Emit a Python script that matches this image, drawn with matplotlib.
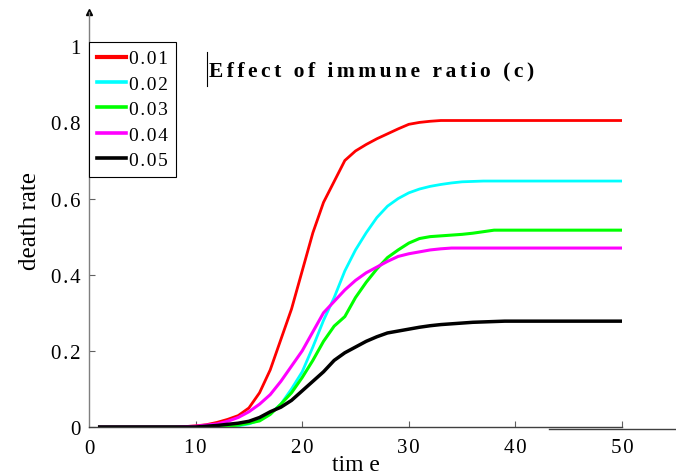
import matplotlib
matplotlib.use('Agg')
import matplotlib.pyplot as plt
from matplotlib.lines import Line2D

time = list(range(1, 51))
c001 = [0, 0, 0, 0, 0, 0, 0, 0, 0.001,
        0.003, 0.006, 0.012, 0.02, 0.03, 0.05, 0.09, 0.15, 0.23, 0.31, 0.41, 0.51,
        0.59, 0.645, 0.70, 0.725, 0.742, 0.757, 0.77, 0.783, 0.795, 0.80, 0.803, 0.805] + [0.805] * 17
c002 = [0] * 12 + [0.001, 0.003, 0.008, 0.018, 0.035, 0.06, 0.10, 0.145, 0.21, 0.28, 0.34,
                   0.41, 0.465, 0.51, 0.55, 0.58, 0.60, 0.615, 0.625, 0.632, 0.637, 0.641,
                   0.644, 0.645] + [0.646] * 14
c003 = [0] * 12 + [0.002, 0.005, 0.01, 0.016, 0.033, 0.06, 0.09, 0.13, 0.175, 0.225, 0.265,
                   0.29, 0.34, 0.38, 0.415, 0.445, 0.465, 0.483, 0.495, 0.50, 0.502, 0.504,
                   0.506, 0.509, 0.513] + [0.517] * 13
c004 = [0] * 8 + [0.001, 0.002, 0.005, 0.008, 0.015, 0.025, 0.04, 0.06, 0.085, 0.12, 0.16,
                  0.20, 0.25, 0.30, 0.33, 0.36, 0.385, 0.405, 0.42, 0.435, 0.448, 0.455,
                  0.46, 0.465, 0.468] + [0.47] * 17
c005 = [0] * 10 + [0.002, 0.004, 0.007, 0.01, 0.015, 0.025, 0.04, 0.052, 0.07, 0.095, 0.12,
                   0.145, 0.175, 0.195, 0.21, 0.225, 0.237, 0.247, 0.252, 0.257, 0.262,
                   0.266, 0.269, 0.271, 0.273, 0.275, 0.276, 0.277] + [0.278] * 12

series = [c001, c002, c003, c004, c005]
labels = ['0.01', '0.02', '0.03', '0.04', '0.05']
colors = ['#ff0000', '#00ffff', '#00ff00', '#ff00ff', '#000000']
widths = [2.0, 2.0, 2.2, 2.2, 2.5]

xticks = [10, 20, 30, 40, 50]
yticks = [0, 0.2, 0.4, 0.6, 0.8, 1]
ytick_labels = ['0', '0.2', '0.4', '0.6', '0.8', '1']
xtick_labels = ['10', '20', '30', '40', '50']

HS = '\u200a'


def spaced(s, sep=HS):
    return sep.join(list(s))


plt.rcParams['font.family'] = ['Liberation Serif', 'DejaVu Serif']

W, H = 676, 477
fig = plt.figure(figsize=(W / 100, H / 100), dpi=100)
ax = fig.add_axes([89 / W, (H - 428) / H, (622 - 89) / W, (428 - 13) / H])

for ys, c, lw in zip(series, colors, widths):
    ax.plot(time, ys, color=c, lw=lw, solid_joinstyle='round')

ax.set_xlim(0, 50)
ax.set_ylim(0, 1.09)
ax.spines['top'].set_visible(False)
ax.spines['right'].set_visible(False)
ax.spines['left'].set_color('#7f7f7f')
ax.spines['bottom'].set_color('#404040')
ax.spines['left'].set_linewidth(1.0)
ax.spines['bottom'].set_linewidth(1.0)

ax.set_xticks(xticks)
ax.set_xticklabels([spaced(s) for s in xtick_labels])
ax.set_yticks(yticks)
ax.set_yticklabels([spaced(s) for s in ytick_labels])
ax.tick_params(axis='both', direction='in', length=4, color='#606060', width=0.8)
ax.tick_params(axis='x', labelsize=15, pad=8)
ax.tick_params(axis='y', labelsize=15, pad=6)

# x '0' label below the origin
ax.text(0, -0.028, '0', transform=ax.get_xaxis_transform(), ha='center', va='top', fontsize=15)

# arrowhead on y axis
ax.plot([0], [1.09], marker='^', color='black', markersize=5, transform=ax.get_yaxis_transform(),
        clip_on=False)

ax.set_xlabel('tim e', fontsize=17, labelpad=-2)
ax.set_ylabel('death rate', fontsize=18, labelpad=7)

# extra bottom line segment
fig.add_artist(Line2D([549 / W, 1.0], [1 - 430 / H, 1 - 430 / H], color='#404040', lw=1.0))

# title with cursor bar
fig.text(209 / W, 1 - 71 / H, spaced('Effect of immune ratio (c)', HS + HS), fontsize=15.5,
         fontweight='bold', ha='left', va='center')
fig.add_artist(Line2D([207 / W, 207 / W], [1 - 53 / H, 1 - 87 / H], color='black', lw=0.8))

handles = [Line2D([], [], color=c, lw=3.0 if i == 0 else 2.6) for i, c in enumerate(colors)]
leg = ax.legend(handles, [spaced(s) for s in labels], loc='upper left',
                bbox_to_anchor=(89 / W, 1 - 43 / H), bbox_transform=fig.transFigure,
                frameon=True, fancybox=False, edgecolor='black', framealpha=1,
                borderaxespad=0, borderpad=0.4, handlelength=1.5, handletextpad=0.15,
                labelspacing=0.4, fontsize=14)
leg.get_frame().set_linewidth(0.8)

fig.savefig('out.png', dpi=100)
